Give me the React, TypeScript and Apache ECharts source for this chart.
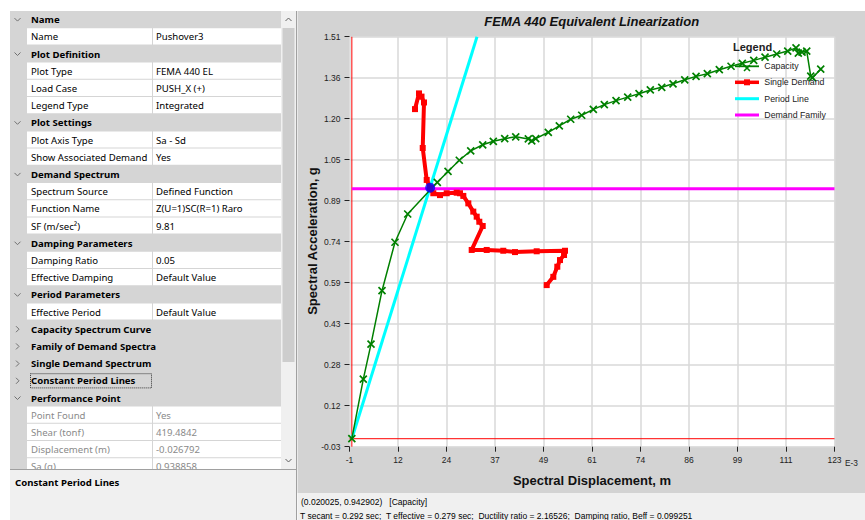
import React, { useEffect, useRef } from "react";
import * as echarts from "echarts";

// ---------- chart data ----------
const xTickLabels = ["-1", "12", "24", "37", "49", "61", "74", "86", "99", "111", "123"];
const yTickLabels = ["-0.03", "0.12", "0.28", "0.43", "0.59", "0.74", "0.89", "1.05", "1.20", "1.36", "1.51"];
const sdMin = -0.0006;
const sdMax = 0.1234;
const saMin = -0.03;
const saMax = 1.51;

// Capacity spectrum (Sd in m, Sa in g)
const capacitySd = [
  0, 0.00293, 0.0049, 0.00771, 0.01103, 0.01428, 0.02185, 0.02459, 0.02747, 0.03039, 0.03346,
  0.03617, 0.03908, 0.0419, 0.04512, 0.04599, 0.04701, 0.05023, 0.05304, 0.05596, 0.05877,
  0.06174, 0.06455, 0.06754, 0.07053, 0.07342, 0.07631, 0.07923, 0.08212, 0.08511, 0.088,
  0.09089, 0.09395, 0.09695, 0.09983, 0.10275, 0.10564, 0.10863, 0.11144, 0.11356, 0.11415,
  0.1151, 0.1163, 0.11732, 0.11775, 0.11988,
];
const capacitySa = [
  0, 0.224, 0.355, 0.556, 0.738, 0.844, 0.963, 1.004, 1.046, 1.081, 1.104,
  1.117, 1.127, 1.134, 1.126, 1.119, 1.127, 1.151, 1.175, 1.2, 1.215,
  1.237, 1.255, 1.27, 1.283, 1.296, 1.31, 1.32, 1.333, 1.348, 1.361,
  1.371, 1.386, 1.399, 1.41, 1.421, 1.433, 1.445, 1.456, 1.468, 1.448,
  1.452, 1.456, 1.362, 1.356, 1.388,
];

// Single demand spectrum
const demandSd = [
  0.01615, 0.01717, 0.01781, 0.01845, 0.01812, 0.01914, 0.01998, 0.02083, 0.02254, 0.02425,
  0.02681, 0.02765, 0.0285, 0.02978, 0.03105, 0.03192, 0.03259, 0.03346, 0.03064, 0.03448,
  0.03872, 0.04172, 0.04726, 0.0545, 0.05425, 0.05322, 0.05253, 0.05151, 0.04982,
];
const demandSa = [
  1.238, 1.297, 1.285, 1.263, 1.092, 0.972, 0.943, 0.922, 0.915, 0.922,
  0.924, 0.922, 0.912, 0.884, 0.853, 0.834, 0.815, 0.799, 0.709, 0.709,
  0.706, 0.701, 0.704, 0.706, 0.69, 0.671, 0.646, 0.608, 0.577,
];

// Period line (secant period) and demand family
const periodLineSd = [0, 0.032];
const periodLineSa = [0, 1.51];
const demandFamilySd = [0, sdMax];
const demandFamilySa = [0.938858, 0.938858];
const performancePoint = [0.020025, 0.942902];

// ---------- property grid content ----------
const gridKinds = [
  "cat", "row", "cat", "row", "row", "row", "cat", "row", "row", "cat", "row", "row", "row",
  "cat", "row", "row", "cat", "row", "col", "col", "col", "col", "cat", "ro", "ro", "ro", "ro",
];
const gridNames = [
  "Name", "Name", "Plot Definition", "Plot Type", "Load Case", "Legend Type", "Plot Settings",
  "Plot Axis Type", "Show Associated Demand", "Demand Spectrum", "Spectrum Source", "Function Name",
  "SF (m/sec²)", "Damping Parameters", "Damping Ratio", "Effective Damping", "Period Parameters",
  "Effective Period", "Capacity Spectrum Curve", "Family of Demand Spectra", "Single Demand Spectrum",
  "Constant Period Lines", "Performance Point", "Point Found", "Shear (tonf)", "Displacement (m)", "Sa (g)",
];
const gridValues = [
  "", "Pushover3", "", "FEMA 440 EL", "PUSH_X (+)", "Integrated", "", "Sa - Sd", "Yes", "",
  "Defined Function", "Z(U=1)SC(R=1) Raro", "9.81", "", "0.05", "Default Value", "", "Default Value",
  "", "", "", "", "", "Yes", "419.4842", "-0.026792", "0.938858",
];

const statusLine1 = "(0.020025, 0.942902)   [Capacity]";
const statusLine2 =
  "T secant = 0.292 sec;  T effective = 0.279 sec;  Ductility ratio = 2.16526;  Damping ratio, Beff = 0.099251";

const UI = '"Noto Sans", sans-serif';
const AR = '"Liberation Sans", Arial, sans-serif';

function txt(x: number, y: number, text: string, font: string, fill: string, align = "left", z = 50, extra: any = {}) {
  return {
    type: "text",
    x,
    y,
    z,
    silent: true,
    ...extra,
    style: { text, font, fill, align, verticalAlign: "middle", textAlign: align, textVerticalAlign: "middle" },
  };
}

function buildGraphic() {
  const els: any[] = [];
  const G = "#d5d5d5";
  // left panel background
  els.push({ type: "rect", z: -10, silent: true, shape: { x: 10, y: 11, width: 271, height: 458 }, style: { fill: G } });
  const rowH = 17.2;
  gridKinds.forEach((k, i) => {
    const y0 = 11 + i * rowH;
    const cy = y0 + rowH / 2;
    if (k === "cat" || k === "col") {
      if (k === "cat") {
        els.push({ type: "polyline", z: -8, silent: true, shape: { points: [[14.5, cy - 1.5], [17.5, cy + 1.5], [20.5, cy - 1.5]] }, style: { stroke: "#707070", lineWidth: 1, fill: "none" } });
      } else {
        els.push({ type: "polyline", z: -8, silent: true, shape: { points: [[16, cy - 3], [19, cy], [16, cy + 3]] }, style: { stroke: "#707070", lineWidth: 1, fill: "none" } });
      }
      els.push(txt(31, cy, gridNames[i], `bold 9.6px ${UI}`, "#000", "left", -7));
    } else {
      els.push({ type: "rect", z: -9, silent: true, shape: { x: 27, y: y0, width: 125, height: rowH - 1 }, style: { fill: "#fff" } });
      els.push({ type: "rect", z: -9, silent: true, shape: { x: 153, y: y0, width: 128, height: rowH - 1 }, style: { fill: "#fff" } });
      const col = k === "ro" ? "#8a8a8a" : "#000";
      els.push(txt(31, cy, gridNames[i], `9.6px ${UI}`, col, "left", -7));
      els.push(txt(156, cy, gridValues[i], `9.6px ${UI}`, col, "left", -7));
    }
    if (gridNames[i] === "Constant Period Lines") {
      els.push({ type: "rect", z: -7, silent: true, shape: { x: 30.5, y: y0 + 1.5, width: 121, height: rowH - 3 }, style: { fill: "none", stroke: "#333", lineWidth: 1, lineDash: [1, 1] } });
    }
  });
  // scrollbar
  els.push({ type: "rect", z: -6, silent: true, shape: { x: 281, y: 11, width: 15, height: 458 }, style: { fill: "#f0f0f0" } });
  els.push({ type: "rect", z: -6, silent: true, shape: { x: 282.5, y: 28, width: 12, height: 334 }, style: { fill: "#cdcdcd" } });
  els.push({ type: "polyline", z: -5, silent: true, shape: { points: [[285.5, 21], [288.5, 18], [291.5, 21]] }, style: { stroke: "#606060", lineWidth: 1, fill: "none" } });
  els.push({ type: "polyline", z: -5, silent: true, shape: { points: [[285.5, 459], [288.5, 462], [291.5, 459]] }, style: { stroke: "#606060", lineWidth: 1, fill: "none" } });
  // description pane
  els.push({ type: "rect", z: -4, silent: true, shape: { x: 10, y: 469, width: 286, height: 51 }, style: { fill: "#f0f0f0" } });
  els.push({ type: "line", z: -4, silent: true, shape: { x1: 10, y1: 469.5, x2: 296, y2: 469.5 }, style: { stroke: "#a0a0a0", lineWidth: 1 } });
  els.push(txt(15, 482, "Constant Period Lines", `bold 9.6px ${UI}`, "#000", "left", -3));
  // splitter
  els.push({ type: "line", z: -4, silent: true, shape: { x1: 296.5, y1: 11, x2: 296.5, y2: 520 }, style: { stroke: "#a0a0a0", lineWidth: 1 } });
  // chart panel
  els.push({ type: "rect", z: -10, silent: true, shape: { x: 297.5, y: 11, width: 568, height: 482 }, style: { fill: "#d3d3d3" } });
  els.push({ type: "rect", z: -10, silent: true, shape: { x: 297.5, y: 493, width: 568, height: 27 }, style: { fill: "#f0f0f0" } });
  els.push(txt(301, 501.5, statusLine1, `8.5px ${AR}`, "#000", "left", 50));
  els.push(txt(300, 515.5, statusLine2, `8.5px ${AR}`, "#000", "left", 50));
  // titles
  els.push(txt(591.7, 21, "FEMA 440 Equivalent Linearization", `italic bold 13px ${AR}`, "#111", "center", 50));
  els.push(txt(592, 480.5, "Spectral Displacement, m", `bold 13px ${AR}`, "#111", "center", 50));
  els.push(txt(312.5, 241, "Spectral Acceleration, g", `bold 13px ${AR}`, "#111", "center", 50, { rotation: Math.PI / 2 }));
  els.push(txt(845, 462.5, "E-3", `8.3px ${AR}`, "#222", "left", 50));
  // legend
  els.push(txt(733, 47.3, "Legend", `bold 11px ${AR}`, "#222", "left", 100));
  const ly = [66.3, 82.3, 98.7, 115];
  const lc = ["#008000", "#ff0000", "#00ffff", "#ff00ff"];
  const ln = ["Capacity", "Single Demand", "Period Line", "Demand Family"];
  const lw = [1.8, 3.5, 3, 3];
  ly.forEach((y, i) => {
    els.push({ type: "line", z: 100, silent: true, shape: { x1: 735, y1: y, x2: 759, y2: y }, style: { stroke: lc[i], lineWidth: lw[i] } });
    els.push(txt(764.3, y, ln[i], `8.8px ${AR}`, "#222", "left", 100));
  });
  els.push({ type: "line", z: 101, silent: true, shape: { x1: 744, y1: 65, x2: 750, y2: 71 }, style: { stroke: "#008000", lineWidth: 1.6 } });
  els.push({ type: "line", z: 101, silent: true, shape: { x1: 750, y1: 65, x2: 744, y2: 71 }, style: { stroke: "#008000", lineWidth: 1.6 } });
  els.push({ type: "rect", z: 101, silent: true, shape: { x: 744, y: 79.3, width: 6, height: 6 }, style: { fill: "#ff0000" } });
  return els;
}

export default function App() {
  const ref = useRef<HTMLDivElement>(null);
  useEffect(() => {
    if (!ref.current) return;
    const chart = echarts.init(ref.current, null, { renderer: "svg" });
    const zip = (a: number[], b: number[]) => a.map((v, i) => [v, b[i]]);
    const catAxisCommon = {
      type: "category",
      boundaryGap: false,
      axisLine: { show: false, onZero: false },
      axisTick: { show: true, length: 5, interval: 0, lineStyle: { color: "#222", width: 1 } },
      splitLine: { show: true, interval: 0, lineStyle: { color: "#d8d8d8", width: 1.5 } },
    };
    chart.setOption({
      animation: false,
      backgroundColor: "#ffffff",
      grid: {
        left: 349.5,
        top: 36.7,
        width: 485,
        height: 410,
        show: true,
        backgroundColor: "#ffffff",
        borderWidth: 0,
        containLabel: false,
        outerBoundsMode: "none",
      },
      xAxis: [
        { type: "value", min: sdMin, max: sdMax, show: false, axisLine: { onZero: false } },
        {
          ...catAxisCommon,
          data: xTickLabels,
          position: "bottom",
          axisLabel: { interval: 0, margin: 9, fontSize: 8.5, color: "#222", fontFamily: AR },
        },
      ],
      yAxis: [
        { type: "value", min: saMin, max: saMax, show: false, axisLine: { onZero: false } },
        {
          ...catAxisCommon,
          data: yTickLabels,
          position: "left",
          axisLabel: { interval: 0, margin: 9, fontSize: 8.5, color: "#222", fontFamily: AR },
        },
      ],
      graphic: { elements: buildGraphic() },
      series: [
        { type: "line", data: [[0, saMin], [0, saMax]], symbol: "none", silent: true, lineStyle: { color: "#ff0000", width: 1 }, z: 1 },
        { type: "line", data: [[sdMin, 0], [sdMax, 0]], symbol: "none", silent: true, lineStyle: { color: "#ff0000", width: 1 }, z: 1 },
        { type: "line", name: "Period Line", data: zip(periodLineSd, periodLineSa), symbol: "none", silent: true, lineStyle: { color: "#00ffff", width: 3 }, z: 2 },
        { type: "line", name: "Demand Family", data: zip(demandFamilySd, demandFamilySa), symbol: "none", silent: true, lineStyle: { color: "#ff00ff", width: 3 }, z: 3 },
        {
          type: "line",
          name: "Capacity",
          data: zip(capacitySd, capacitySa),
          symbol: "path://M0,0L10,10M10,0L0,10",
          symbolSize: 7,
          showAllSymbol: true,
          silent: true,
          lineStyle: { color: "#008000", width: 1.5 },
          itemStyle: { color: "#008000", borderColor: "#008000", borderWidth: 1.7 },
          z: 4,
        },
        {
          type: "line",
          name: "Single Demand",
          data: zip(demandSd, demandSa),
          symbol: "rect",
          symbolSize: 6,
          showAllSymbol: true,
          silent: true,
          lineStyle: { color: "#ff0000", width: 4 },
          itemStyle: { color: "#ff0000" },
          z: 5,
        },
        {
          type: "scatter",
          name: "Performance Point",
          data: [performancePoint],
          symbol: "circle",
          symbolSize: 10,
          silent: true,
          itemStyle: { color: "#0000ff" },
          z: 6,
        },
      ],
    });
    return () => chart.dispose();
  }, []);
  return (
    <div
      ref={ref}
      style={{ position: "fixed", left: 0, top: 0, width: 865, height: 520 }}
    />
  );
}
